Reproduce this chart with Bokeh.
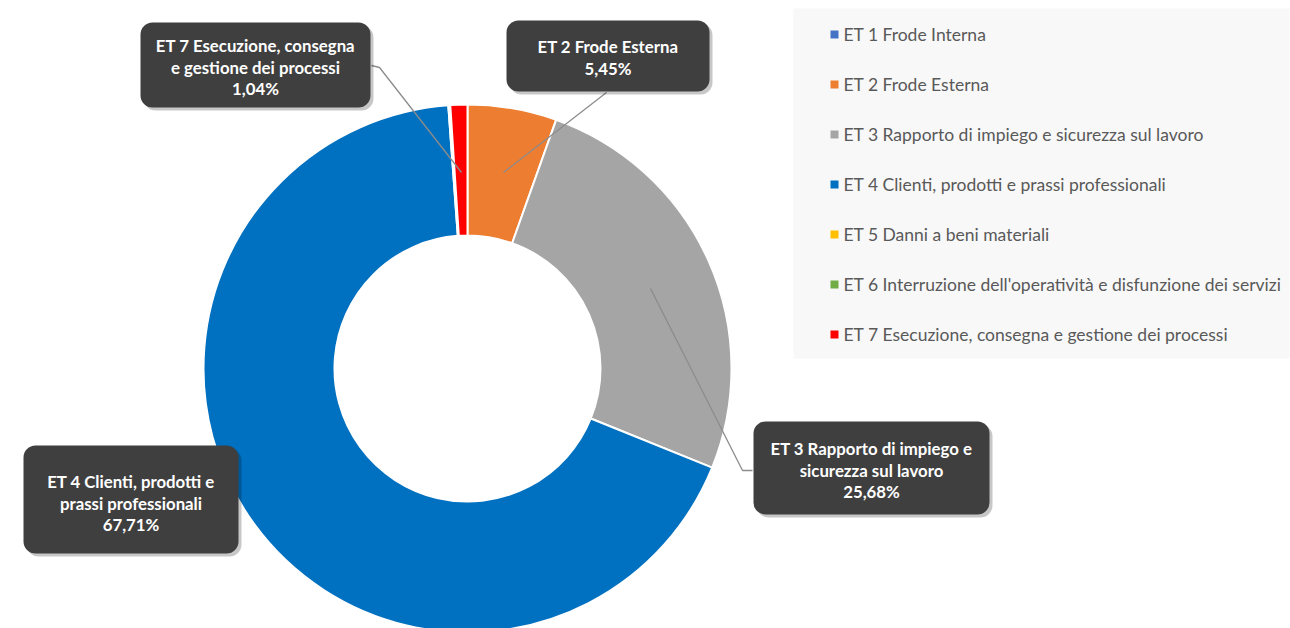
import math
from bokeh.plotting import figure
from bokeh.models import Range1d, BoxAnnotation
from bokeh.core.properties import value
from bokeh.embed import file_html
from bokeh.resources import INLINE

# ---------------- data ----------------
categories = [
    "ET 1 Frode Interna",
    "ET 2 Frode Esterna",
    "ET 3 Rapporto di impiego e sicurezza sul lavoro",
    "ET 4 Clienti, prodotti e prassi professionali",
    "ET 5 Danni a beni materiali",
    "ET 6 Interruzione dell'operatività e disfunzione dei servizi",
    "ET 7 Esecuzione, consegna e gestione dei processi",
]
shares = [0.00, 5.45, 25.68, 67.71, 0.12, 0.00, 1.04]
colors = ["#4472C4", "#ED7D31", "#A5A5A5", "#0070C0", "#FFC000", "#70AD47", "#FF0000"]

# data label text lines (name split across lines as in the chart)
label_names = {
    6: ["ET 7 Esecuzione, consegna", "e gestione dei processi"],
    1: ["ET 2 Frode Esterna"],
    2: ["ET 3 Rapporto di impiego e", "sicurezza sul lavoro"],
    3: ["ET 4 Clienti, prodotti e", "prassi professionali"],
}

# ---------------- layout (pixels, top-left origin) ----------------
W, H = 1290, 628
def Y(py):
    return H - py

cx, cy = 467, 368
r_out, r_in = 264, 133

p = figure(width=W, height=H, output_backend="svg", toolbar_location=None,
           x_range=Range1d(0, W), y_range=Range1d(0, H),
           x_axis_type=None, y_axis_type=None, min_border=0)
p.grid.visible = False
p.outline_line_color = None
p.background_fill_color = "white"
p.border_fill_color = "white"

# ---------------- donut ----------------
total = sum(shares)
starts, ends = [], []
cum = 0.0
for s in shares:
    a0 = math.pi / 2 - 2 * math.pi * cum / total
    cum += s
    a1 = math.pi / 2 - 2 * math.pi * cum / total
    starts.append(a0)
    ends.append(a1)

idx = [i for i, s in enumerate(shares) if s > 0]
p.annular_wedge(x=[cx] * len(idx), y=[Y(cy)] * len(idx),
                inner_radius=r_in, outer_radius=r_out,
                start_angle=[starts[i] for i in idx], end_angle=[ends[i] for i in idx],
                direction="clock", fill_color=[colors[i] for i in idx],
                line_color="white", line_width=2)

# ---------------- leader lines ----------------
leaders = {
    6: ([371, 379, 461], [65, 67, 172]),
    1: ([606, 503], [92, 172]),
    2: ([752, 742, 650], [470, 470, 288]),
}
for k, (xs, ys) in leaders.items():
    p.line(xs, [Y(v) for v in ys], line_color="#8C8C8C", line_width=1.3)

# ---------------- label boxes ----------------
boxes = {  # left, top, right, bottom, first line y
    6: (140, 22, 370, 107, 45),
    1: (506, 20, 709, 91, 46),
    2: (753, 421, 989, 514, 448),
    3: (23, 445, 238, 553, 481),
}
line_gap = 21.5
for k, (l, t, r, b, ty) in boxes.items():
    shadow = BoxAnnotation(left=l + 3, right=r + 3, top=Y(t + 3), bottom=Y(b + 3),
                           fill_color="#000000", fill_alpha=0.22, line_color=None,
                           border_radius=12, level="guide")
    box = BoxAnnotation(left=l, right=r, top=Y(t), bottom=Y(b),
                        fill_color="#3F3F3F", fill_alpha=1.0, line_color=None,
                        border_radius=12, level="guide")
    p.add_layout(shadow)
    p.add_layout(box)
    pct = f"{shares[k]:.2f}".replace(".", ",") + "%"
    lines = label_names[k] + [pct]
    xs = [(l + r) / 2] * len(lines)
    ys = [Y(ty + j * line_gap) for j in range(len(lines))]
    p.text(x=xs, y=ys, text=lines, text_font=value("Lato"), text_font_style="bold",
           text_font_size="16.8px", text_color="white", text_align="center",
           text_baseline="middle", level="overlay")

# ---------------- legend ----------------
leg_bg = BoxAnnotation(left=793, right=1289, top=Y(8), bottom=Y(358),
                       fill_color="#F8F8F8", fill_alpha=1.0, line_color=None,
                       level="underlay")
p.add_layout(leg_bg)
row_y = [34 + 50 * i for i in range(len(categories))]
p.rect(x=[834] * len(categories), y=[Y(v) for v in row_y], width=8, height=8,
       fill_color=colors, line_color=None)
p.text(x=[843] * len(categories), y=[Y(v) for v in row_y], text=categories,
       text_font=value("Lato"), text_font_size="17.5px", text_color="#595959",
       text_align="left", text_baseline="middle")

open("out.html", "w").write(file_html(p, INLINE))
